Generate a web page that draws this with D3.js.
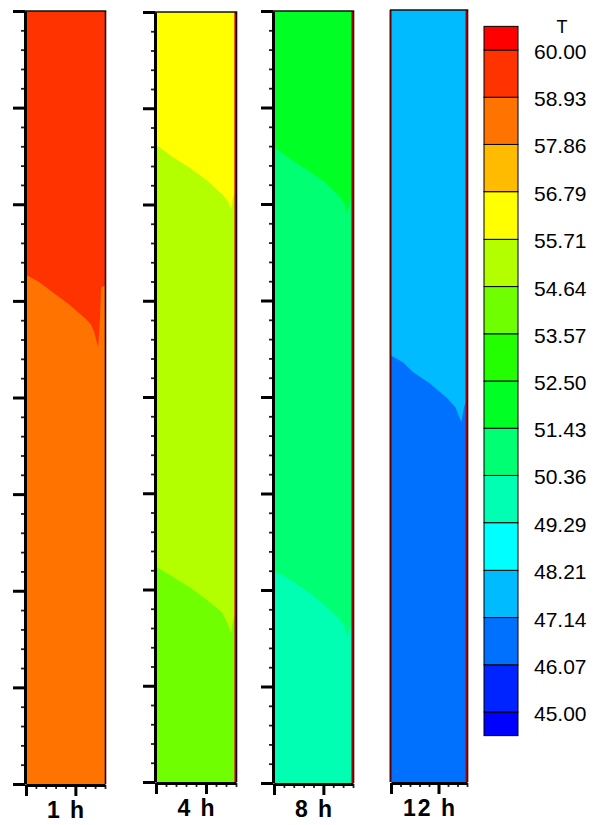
<!DOCTYPE html>
<html>
<head>
<meta charset="utf-8">
<script src="https://cdn.jsdelivr.net/npm/d3@7/dist/d3.min.js"></script>
<style>
  body { margin: 0; background: #fff; }
  svg { display: block; }
  text { font-family: "Liberation Sans", Arial, Helvetica, sans-serif; fill: #000; }
</style>
</head>
<body>
<svg id="chart" width="601" height="825"></svg>
<script>
// ---- Temperature contour levels (colour bar) ----
const levels = [45.00, 46.07, 47.14, 48.21, 49.29, 50.36, 51.43, 52.50,
                53.57, 54.64, 55.71, 56.79, 57.86, 58.93, 60.00];
const levelLabels = ["45.00", "46.07", "47.14", "48.21", "49.29", "50.36", "51.43", "52.50",
                     "53.57", "54.64", "55.71", "56.79", "57.86", "58.93", "60.00"];
// one colour per band: below 45, the 14 bands, above 60
const bandColors = ["#0000FF", "#0024FF", "#0070FF", "#00BBFF", "#00FFFF", "#00FFB3",
                    "#00FF73", "#00FF24", "#24FF00", "#70FF00", "#B3FF00", "#FFFF00",
                    "#FFBB00", "#FF7300", "#FF3300", "#FF0000"];

// ---- Snapshots ----
const timeLabels = ["1 h", "4 h", "8 h", "12 h"];

// layer temperatures, bottom layer first
const layers1h  = [58.4, 59.5];
const layers4h  = [54.1, 55.2, 56.2];
const layers8h  = [49.8, 50.9, 52.0];
const layers12h = [46.6, 47.6];

// thermocline interfaces between successive layers: [x, height]
const interfaces1h = [
  [[0, 5.27], [14, 5.19], [27, 5.09], [44, 4.96], [61, 4.81], [66, 4.75], [69, 4.68],
   [73, 4.52], [75, 4.83], [76, 5.14], [80, 5.16]]
];
const interfaces4h = [
  [[0, 2.24], [17, 2.13], [34, 2.02], [51, 1.89], [66, 1.76], [71, 1.66], [75, 1.55],
   [77, 1.68], [80, 1.77]],
  [[0, 6.62], [17, 6.49], [34, 6.38], [51, 6.25], [67, 6.10], [72, 6.03], [75, 5.95],
   [77, 6.08], [80, 6.15]]
];
const interfaces8h = [
  [[0, 2.20], [19, 2.09], [36, 1.97], [53, 1.83], [66, 1.70], [72, 1.62], [74, 1.50],
   [77, 1.62], [80, 1.69]],
  [[0, 6.59], [17, 6.46], [34, 6.35], [51, 6.23], [67, 6.07], [72, 5.99], [74, 5.89],
   [76.5, 6.03], [80, 6.10]]
];
const interfaces12h = [
  [[0, 4.42], [12.6, 4.35], [23, 4.25], [41, 4.13], [59, 3.98], [68, 3.88], [74, 3.73],
   [77, 3.89], [80, 3.96]]
];

// tank extent (width and height in plot units) and tick spacing
const xExtent = [0, 80];
const hExtent = [0, 8];
const xMajor = [0, 50];
const xMinor = [10, 20, 30, 40, 60, 70, 80];
const hMajor = d3.range(0, 9, 1);
const hMinor = d3.range(0, 8.01, 0.2).filter(v => Math.abs(v - Math.round(v)) > 1e-6);

// ---- layout ----
const panels = [
  { label: timeLabels[0], layers: layers1h,  ifaces: interfaces1h,  x0: 26,  x1: 105, y0: 11, y1: 784, leftAxis: true,  wall: false },
  { label: timeLabels[1], layers: layers4h,  ifaces: interfaces4h,  x0: 156, x1: 236, y0: 12, y1: 782, leftAxis: true,  wall: true },
  { label: timeLabels[2], layers: layers8h,  ifaces: interfaces8h,  x0: 274, x1: 353, y0: 11, y1: 783, leftAxis: true,  wall: true },
  { label: timeLabels[3], layers: layers12h, ifaces: interfaces12h, x0: 391, x1: 467, y0: 10, y1: 782, leftAxis: false, wall: true }
];

const color = d3.scaleThreshold().domain(levels).range(bandColors);
const svg = d3.select("#chart");

panels.forEach(p => {
  const x = d3.scaleLinear().domain(xExtent).range([p.x0, p.x1]);
  const y = d3.scaleLinear().domain(hExtent).range([p.y1, p.y0]);
  const g = svg.append("g");

  // bottom layer fills the tank
  g.append("rect")
    .attr("x", x(xExtent[0])).attr("y", y(hExtent[1]))
    .attr("width", x(xExtent[1]) - x(xExtent[0]))
    .attr("height", y(hExtent[0]) - y(hExtent[1]))
    .attr("fill", color(p.layers[0]));

  // each warmer layer sits above its interface
  const area = d3.line().x(d => x(d[0])).y(d => y(d[1]));
  p.ifaces.forEach((iface, k) => {
    const poly = [[xExtent[0], hExtent[1]], [xExtent[1], hExtent[1]]]
      .concat(iface.slice().reverse());
    g.append("path")
      .attr("d", area(poly) + "Z")
      .attr("fill", color(p.layers[k + 1]));
  });

  // tank walls
  if (p.wall) {
    g.append("line").attr("x1", p.x1 - 0.8).attr("x2", p.x1 - 0.8)
      .attr("y1", p.y0).attr("y2", p.y1)
      .attr("stroke", "#E00000").attr("stroke-width", 1.6);
  }
  if (!p.leftAxis) {
    g.append("line").attr("x1", p.x0 - 0.5).attr("x2", p.x0 - 0.5)
      .attr("y1", p.y0).attr("y2", p.y1)
      .attr("stroke", "#5a0000").attr("stroke-width", 2);
  }
  g.append("line").attr("x1", p.x1 + 0.5).attr("x2", p.x1 + 0.5)
    .attr("y1", p.y0).attr("y2", p.y1)
    .attr("stroke", "#220000").attr("stroke-width", 1.6);
  g.append("line").attr("x1", p.x0 - 1).attr("x2", p.x1 + 1.2)
    .attr("y1", p.y0).attr("y2", p.y0)
    .attr("stroke", "#111").attr("stroke-width", 1.6);

  // left axis
  if (p.leftAxis) {
    const yAx = d3.scaleLinear().domain(hExtent).range([p.y1, p.y0]);
    const minor = g.append("g").attr("transform", `translate(${p.x0 - 1},0)`)
      .call(d3.axisLeft(yAx).tickValues(hMinor).tickSize(4).tickSizeOuter(0).tickFormat(""));
    minor.select(".domain").remove();
    minor.selectAll(".tick line").attr("stroke", "#222").attr("stroke-width", 1.8);
    const major = g.append("g").attr("transform", `translate(${p.x0 - 1},0)`)
      .call(d3.axisLeft(yAx).tickValues(hMajor).tickSize(12).tickSizeOuter(0).tickFormat(""));
    major.select(".domain").attr("stroke", "#000").attr("stroke-width", 3);
    major.selectAll(".tick line").attr("stroke", "#000").attr("stroke-width", 3);
  }

  // bottom axis
  const by = p.y1 + 1;
  const xMin = g.append("g").attr("transform", `translate(0,${by})`)
    .call(d3.axisBottom(x).tickValues(xMinor).tickSize(4).tickSizeOuter(0).tickFormat(""));
  xMin.select(".domain").remove();
  xMin.selectAll(".tick line").attr("stroke", "#222").attr("stroke-width", 1.8);
  const xMaj = g.append("g").attr("transform", `translate(0,${by})`)
    .call(d3.axisBottom(x).tickValues(xMajor).tickSize(11).tickSizeOuter(0).tickFormat(""));
  xMaj.select(".domain").attr("stroke", "#000").attr("stroke-width", 3);
  xMaj.selectAll(".tick line").attr("stroke", "#000").attr("stroke-width", 3);

  // snapshot label
  svg.append("text")
    .attr("x", (p.x0 + p.x1) / 2 + 1)
    .attr("y", p.y1 + 34)
    .attr("text-anchor", "middle")
    .attr("font-size", 23)
    .attr("font-weight", "bold")
    .attr("letter-spacing", 2)
    .text(p.label);
});

// ---- colour bar ----
const step = (levels[levels.length - 1] - levels[0]) / (levels.length - 1);
const ly = d3.scaleLinear().domain([levels[0], levels[levels.length - 1]]).range([712, 50]);
const legendX = 484, legendW = 34;
const bounds = [levels[0] - step / 2].concat(levels, [levels[levels.length - 1] + step / 2]);
const legend = svg.append("g");
bandColors.forEach((c, i) => {
  const lo = bounds[i], hi = bounds[i + 1];
  legend.append("rect")
    .attr("x", legendX).attr("y", ly(hi))
    .attr("width", legendW).attr("height", ly(lo) - ly(hi))
    .attr("fill", c).attr("stroke", "#000").attr("stroke-width", 1);
});
levels.forEach((v, i) => {
  legend.append("text")
    .attr("x", 534).attr("y", ly(v) + 9)
    .attr("font-size", 21)
    .text(levelLabels[i]);
});
legend.append("text")
  .attr("x", 562).attr("y", 33)
  .attr("text-anchor", "middle")
  .attr("font-size", 18)
  .text("T");
</script>
</body>
</html>
